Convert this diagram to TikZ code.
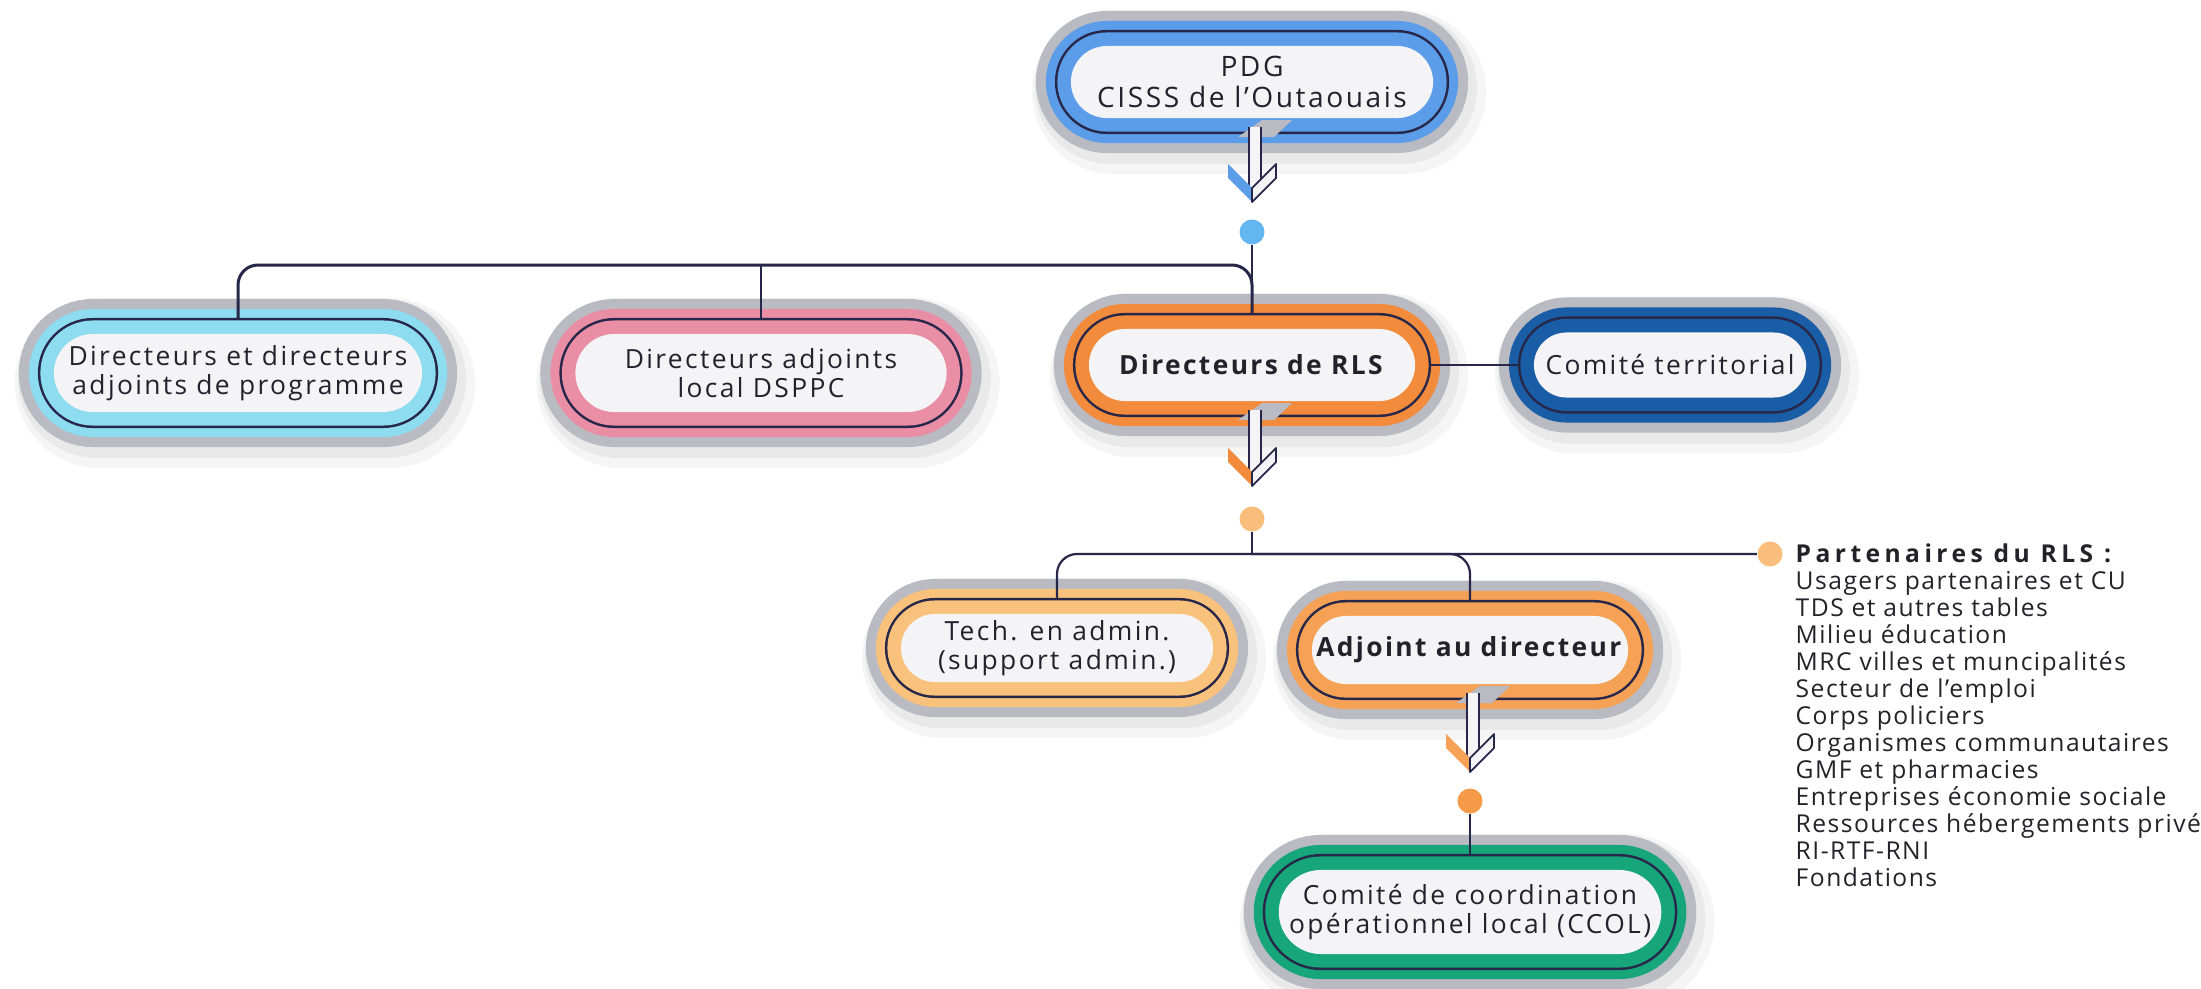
\documentclass[tikz,border=0pt]{standalone}
\usepackage{fontspec}
\setmainfont{Open Sans}[LetterSpace=9]
\usetikzlibrary{positioning,shapes.misc,calc}

\definecolor{navy}{HTML}{27274A}
\definecolor{halo}{HTML}{BABAC3}
\definecolor{paper}{HTML}{F4F4F7}
\definecolor{inktext}{HTML}{222228}
\definecolor{pdgblue}{HTML}{5B9DE8}
\definecolor{cyanring}{HTML}{8DDCEF}
\definecolor{pinkring}{HTML}{E98EA4}
\definecolor{rlsorange}{HTML}{F28B3C}
\definecolor{terrblue}{HTML}{195DA6}
\definecolor{techorange}{HTML}{F8C27C}
\definecolor{adjorange}{HTML}{F5A257}
\definecolor{ccolgreen}{HTML}{16A67A}
\definecolor{dotblue}{HTML}{63B6F1}
\definecolor{dotorange}{HTML}{F9BE7B}
\definecolor{dotdark}{HTML}{F59A48}

\newcommand{\nodefont}{\fontsize{7.5}{8.1}\selectfont}

\tikzset{
  pill/.style={
    % The shape:
    rounded rectangle,
    inner sep=0pt,
    outer sep=0.15cm,             % anchors sit on the dark line
    % The rings, from outside in:
    preaction={draw=black, draw opacity=.05, line width=0.80cm,
               transform canvas={xshift=0.04cm,yshift=-0.06cm}},
    preaction={draw=black, draw opacity=.04, line width=0.92cm,
               transform canvas={xshift=0.07cm,yshift=-0.10cm}},
    preaction={draw=halo, line width=0.70cm},
    preaction={draw=#1, line width=0.50cm},
    preaction={draw=navy, line width=0.32cm},
    preaction={draw=#1, line width=0.27cm},
    % The filling:
    fill=paper,
    % Font
    text=inktext, align=center, font=\nodefont
  },
  dot/.style={circle, fill=#1, minimum size=0.25cm, inner sep=0pt},
  link/.style={draw=navy, line width=0.022cm},
  partners/.style={align=left, inner sep=0pt, text=inktext,
                   font=\fontsize{7.0}{7.68}\selectfont\addfontfeatures{LetterSpace=6}}
}

% stem and chevron under a box: #1 box, #2 tip, #3 colour
\newcommand{\chevdown}[3]{%
  \fill[halo] ($(#1.south)+(-14,4)$) -- ($(#1.south)+(10,-13)$) -- ($(#1.south)+(40,-13)$) -- ($(#1.south)+(22,4)$) -- cycle;
  \fill[paper] ($(#1.south)+(-3,-6)$) rectangle ($(#2)+(9,-14)$);
  \draw[navy, line width=0.018cm] ($(#1.south)+(-3,-6)$) -- ($(#2)+(-3,-9)$);
  \draw[navy, line width=0.018cm] ($(#1.south)+(9,-6)$) -- ($(#2)+(9,-21)$);
  \fill[#3] ($(#2)+(-24,-36)$) -- ($(#2)+(0,-12)$) -- ($(#2)+(0,2)$) -- ($(#2)+(-24,-22)$) -- cycle;
  \filldraw[fill=paper, draw=navy, line width=0.018cm, line join=round]
    ($(#2)+(0,-12)$) -- ($(#2)+(24,-36)$) -- ($(#2)+(24,-22)$) -- ($(#2)+(0,2)$) -- cycle;
}

\begin{document}
\begin{tikzpicture}[x=0.01cm, y=-0.01cm]
  \useasboundingbox (0,0) rectangle (2201,988);

  % boxes
  \node[pill=pdgblue, minimum width=3.62cm, minimum height=0.72cm, font=\fontsize{8}{8.6}\selectfont] (pdg) at (1252,82) {PDG\\CISSS de l’Outaouais};
  \node[pill=cyanring, minimum width=3.68cm, minimum height=0.78cm] (prog) at (238,373) {Directeurs et directeurs\\adjoints de programme};
  \node[pill=pinkring, minimum width=3.71cm, minimum height=0.78cm] (dsppc) at (761,373) {Directeurs adjoints\\local DSPPC};
  \node[pill=rlsorange, minimum width=3.26cm, minimum height=0.72cm] (rls) at (1252,365) {\textbf{Directeurs de RLS}};
  \node[pill=terrblue, minimum width=2.72cm, minimum height=0.65cm] (terr) at (1670,365) {Comité territorial};
  \node[pill=techorange, minimum width=3.12cm, minimum height=0.68cm] (tech) at (1057,648) {Tech. en admin.\\(support admin.)};
  \node[pill=adjorange, minimum width=3.16cm, minimum height=0.68cm] (adj) at (1470,650) {\textbf{Adjoint au directeur}};
  \node[pill=ccolgreen, minimum width=3.66cm, minimum height=0.84cm] (ccol) at (1470,912) {Comité de coordination\\opérationnel local (CCOL)};

  % dots and joints
  \node[dot=dotblue] (d1) at (1252,232) {};
  \node[dot=dotorange] (d2) at (1252,519) {};
  \node[dot=dotdark] (d3) at (1470,801) {};
  \node[dot=dotorange] (pdot) at (1770,554) {};
  \coordinate (j1) at (1252,265);
  \coordinate (j2) at (1252,554);
  \coordinate (t1) at (1252,200);
  \coordinate (t2) at (1252,484);
  \coordinate (t3) at (1470,770);

  % connectors
  \draw[link] (d1) -- (rls.north);
  \draw[link, line width=0.03cm, rounded corners=0.2cm] (prog.north) |- (j1) -- (rls.north);
  \draw[link] (dsppc.north) -- (dsppc.north |- j1);
  \draw[link] (rls.east) -- (terr.west);
  \draw[link] (d2) -- (j2);
  \draw[link, rounded corners=0.2cm] (tech.north) |- (pdot);
  \draw[link, rounded corners=0.2cm] (j2) -| (adj.north);
  \draw[link] (d3) -- (ccol.north);

  % arrows
  \chevdown{pdg}{t1}{pdgblue}
  \chevdown{rls}{t2}{rlsorange}
  \chevdown{adj}{t3}{adjorange}

  % partners
  \node[partners, anchor=north west] (plist) at (1795,543) {%
    {\addfontfeatures{LetterSpace=18}\textbf{Partenaires du RLS :}}\\
    Usagers partenaires et CU\\
    TDS et autres tables\\
    Milieu éducation\\
    MRC villes et muncipalités\\
    Secteur de l’emploi\\
    Corps policiers\\
    Organismes communautaires\\
    GMF et pharmacies\\
    Entreprises économie sociale\\
    Ressources hébergements privé\\
    RI-RTF-RNI\\
    Fondations};
\end{tikzpicture}
\end{document}
